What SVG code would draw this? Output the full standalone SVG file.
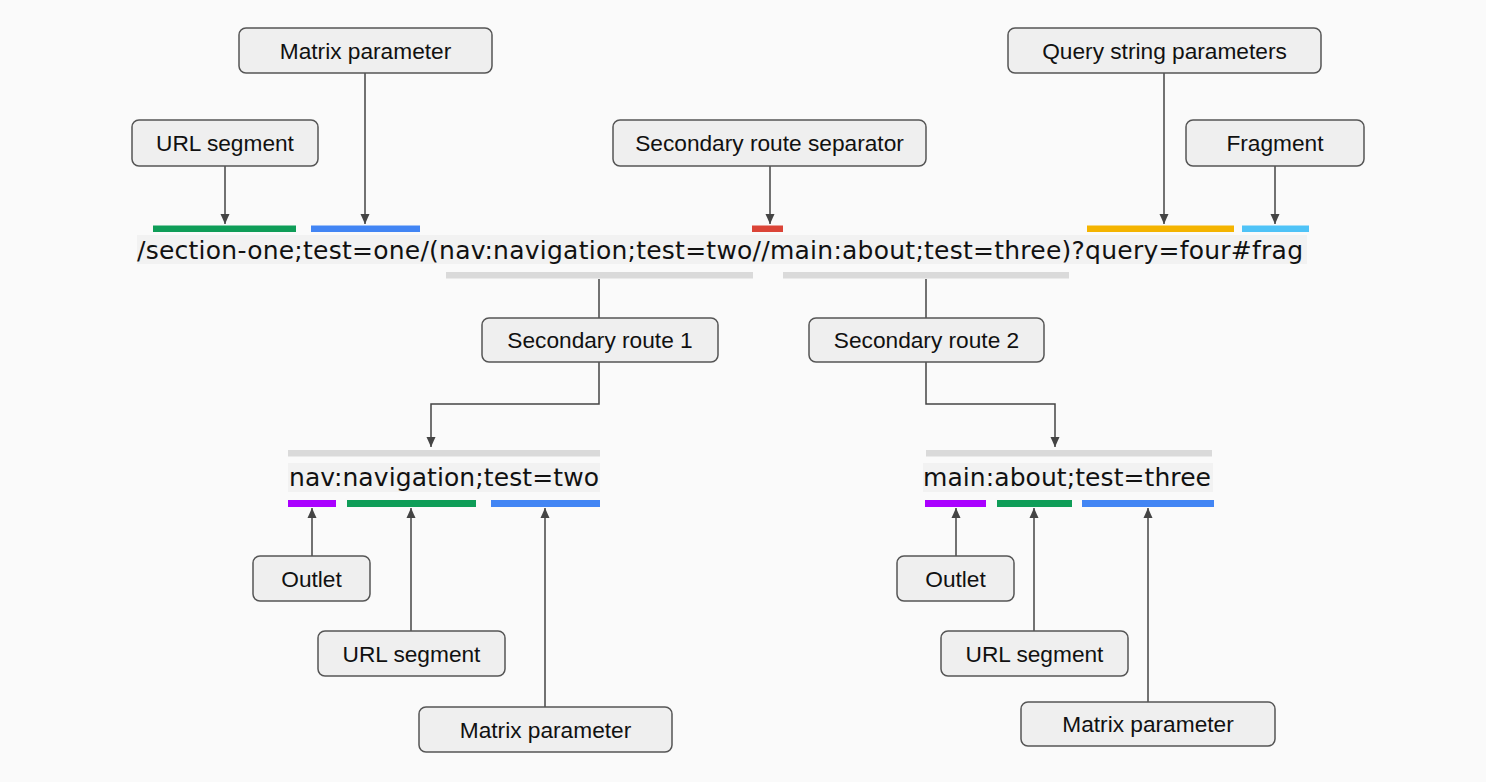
<svg xmlns="http://www.w3.org/2000/svg" width="1486" height="782" viewBox="0 0 1486 782">
<defs>
<style>
.box{fill:#efefef;stroke:#555;stroke-width:1.5}
.lbl{font-family:"Liberation Sans",Arial,sans-serif;font-size:22.7px;fill:#111;text-anchor:middle}
.url{font-family:"DejaVu Sans",Verdana,sans-serif;font-size:25px;fill:#111}
.tbg{fill:#f2f2f2}
.c{fill:none;stroke:#444;stroke-width:1.5}
</style>
<marker id="ah" markerUnits="userSpaceOnUse" markerWidth="10" markerHeight="12" viewBox="0 0 10 12" refX="10" refY="6" orient="auto">
<path d="M0,1.5 L10,6 L0,10.5 z" fill="#444"/>
</marker>
</defs>
<rect width="1486" height="782" fill="#fafafa"/>

<g id="url-main">
<rect class="tbg" x="137" y="235" width="1170" height="29"/>
<text class="url" x="137" y="259" textLength="1166" lengthAdjust="spacing">/section-one;test=one/(nav:navigation;test=two//main:about;test=three)?query=four#frag</text>
<rect x="153" y="225.5" width="143" height="6.5" fill="#0f9d58"/>
<rect x="311" y="225.5" width="109" height="6.5" fill="#4285f4"/>
<rect x="752" y="225.5" width="31" height="6.5" fill="#db4437"/>
<rect x="1087" y="225.5" width="147" height="6.5" fill="#f4b400"/>
<rect x="1242" y="225.5" width="67" height="6.5" fill="#4fc3f7"/>
<rect x="446" y="272" width="307" height="6.5" fill="#dadada"/>
<rect x="783" y="272" width="286" height="6.5" fill="#dadada"/>
</g>

<g id="url-route1">
<rect x="288" y="450" width="312" height="6.5" fill="#dadada"/>
<rect class="tbg" x="288" y="463" width="312" height="29"/>
<text class="url" x="289" y="486" textLength="310" lengthAdjust="spacing">nav:navigation;test=two</text>
<rect x="288" y="500" width="48" height="7" fill="#aa00ff"/>
<rect x="347" y="500" width="129" height="7" fill="#0f9d58"/>
<rect x="491" y="500" width="109" height="7" fill="#4285f4"/>
</g>

<g id="url-route2">
<rect x="926" y="450" width="286" height="6.5" fill="#dadada"/>
<rect class="tbg" x="923" y="463" width="290" height="29"/>
<text class="url" x="923" y="486" textLength="288" lengthAdjust="spacing">main:about;test=three</text>
<rect x="925" y="500" width="61" height="7" fill="#aa00ff"/>
<rect x="997" y="500" width="75" height="7" fill="#0f9d58"/>
<rect x="1082" y="500" width="132" height="7" fill="#4285f4"/>
</g>

<g id="connectors">
<path class="c" d="M225,166 V224" marker-end="url(#ah)"/>
<path class="c" d="M365,73 V224" marker-end="url(#ah)"/>
<path class="c" d="M770,166 V224" marker-end="url(#ah)"/>
<path class="c" d="M1164,73 V224" marker-end="url(#ah)"/>
<path class="c" d="M1275,166 V224" marker-end="url(#ah)"/>
<path class="c" d="M599,279 V318"/>
<path class="c" d="M926,279 V318"/>
<path class="c" d="M599,362 V404 H431 V447" marker-end="url(#ah)"/>
<path class="c" d="M926,362 V404 H1055 V447" marker-end="url(#ah)"/>
<path class="c" d="M312,556 V508" marker-end="url(#ah)"/>
<path class="c" d="M411,631 V508" marker-end="url(#ah)"/>
<path class="c" d="M545,707 V508" marker-end="url(#ah)"/>
<path class="c" d="M956,556 V508" marker-end="url(#ah)"/>
<path class="c" d="M1034,631 V508" marker-end="url(#ah)"/>
<path class="c" d="M1148,702 V508" marker-end="url(#ah)"/>
</g>

<g id="n-url-segment">
<rect class="box" x="132" y="120" width="186" height="46" rx="7"/>
<text class="lbl" x="225" y="151">URL segment</text>
</g>
<g id="n-matrix-param">
<rect class="box" x="239" y="28" width="253" height="45" rx="7"/>
<text class="lbl" x="365.5" y="58.5">Matrix parameter</text>
</g>
<g id="n-separator">
<rect class="box" x="613" y="120" width="313" height="46" rx="7"/>
<text class="lbl" x="769.5" y="151">Secondary route separator</text>
</g>
<g id="n-query">
<rect class="box" x="1008" y="28" width="313" height="45" rx="7"/>
<text class="lbl" x="1164.5" y="58.5">Query string parameters</text>
</g>
<g id="n-fragment">
<rect class="box" x="1186" y="120" width="178" height="46" rx="7"/>
<text class="lbl" x="1275" y="151">Fragment</text>
</g>
<g id="n-route1">
<rect class="box" x="482" y="318" width="236" height="44" rx="7"/>
<text class="lbl" x="600" y="348">Secondary route 1</text>
</g>
<g id="n-route2">
<rect class="box" x="809" y="318" width="235" height="44" rx="7"/>
<text class="lbl" x="926.5" y="348">Secondary route 2</text>
</g>
<g id="n-outlet-1">
<rect class="box" x="253" y="556" width="117" height="45" rx="7"/>
<text class="lbl" x="311.5" y="586.5">Outlet</text>
</g>
<g id="n-url-segment-1">
<rect class="box" x="318" y="631" width="187" height="45" rx="7"/>
<text class="lbl" x="411.5" y="661.5">URL segment</text>
</g>
<g id="n-matrix-1">
<rect class="box" x="419" y="707" width="253" height="45" rx="7"/>
<text class="lbl" x="545.5" y="737.5">Matrix parameter</text>
</g>
<g id="n-outlet-2">
<rect class="box" x="897" y="556" width="117" height="45" rx="7"/>
<text class="lbl" x="955.5" y="586.5">Outlet</text>
</g>
<g id="n-url-segment-2">
<rect class="box" x="941" y="631" width="187" height="45" rx="7"/>
<text class="lbl" x="1034.5" y="661.5">URL segment</text>
</g>
<g id="n-matrix-2">
<rect class="box" x="1021" y="702" width="254" height="44" rx="7"/>
<text class="lbl" x="1148" y="732">Matrix parameter</text>
</g>
</svg>
